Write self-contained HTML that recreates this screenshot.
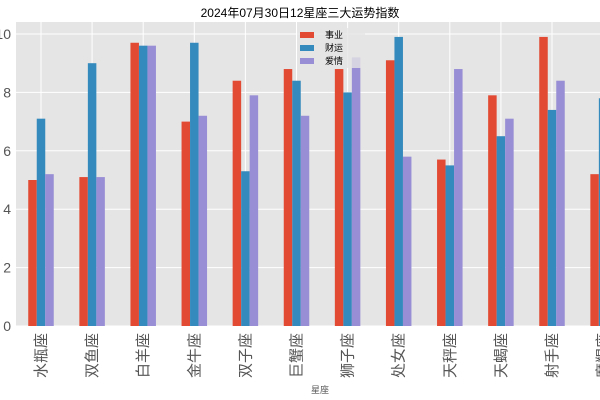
<!DOCTYPE html>
<html><head><meta charset="utf-8"><style>
body{margin:0;background:#fff;}
svg{display:block;font-family:"Liberation Sans","Noto Sans CJK SC",sans-serif;}
</style></head><body>
<svg id="chart" width="600" height="400">
<rect x="16" y="22" width="600" height="304" fill="#E5E5E5"/>
<g id="grid"></g><g id="bars"></g><g id="axes"></g>
<text x="300" y="17" text-anchor="middle" font-size="12" fill="#000">2024年07月30日12星座三大运势指数</text>
<text x="320" y="393" text-anchor="middle" font-size="9" fill="#555">星座</text>
<g>
<rect x="297" y="28" width="68" height="40" fill="#E5E5E5" opacity="0.8"/>
<rect x="300" y="32" width="14" height="6" fill="#E24A33"/>
<text x="325" y="38" font-size="9">事业</text>
<rect x="300" y="45" width="14" height="6" fill="#348ABD"/>
<text x="325" y="51" font-size="9">财运</text>
<rect x="300" y="58" width="14" height="6" fill="#988ED5"/>
<text x="325" y="64" font-size="9">爱情</text>
</g>
</svg>
<script>
const categories=["水瓶座","双鱼座","白羊座","金牛座","双子座","巨蟹座","狮子座","处女座","天秤座","天蝎座","射手座","摩羯座"];
const career=[5.0,5.1,9.7,7.0,8.4,8.8,8.8,9.1,5.7,7.9,9.9,5.2];
const wealth=[7.1,9.0,9.6,9.7,5.3,8.4,8.0,9.9,5.5,6.5,7.4,7.8];
const love=[5.2,5.1,9.6,7.2,7.9,7.2,9.2,5.8,8.8,7.1,8.4,6.0];
const yTicks=[0,2,4,6,8,10];
const NS="http://www.w3.org/2000/svg";
const y=v=>326-v*29.2;
const x=i=>41+i*51.1;
const bw=8.5;
const grid=document.getElementById('grid'),bars=document.getElementById('bars'),axes=document.getElementById('axes');
function mk(tag,attrs,parent){const e=document.createElementNS(NS,tag);for(const k in attrs)e.setAttribute(k,attrs[k]);parent.appendChild(e);return e;}
yTicks.forEach(t=>{
  const l=mk('line',{x1:16,x2:600,y1:y(t),y2:y(t),stroke:'#fff','stroke-width':1},grid);
  
  
  const tx=mk('text',{x:11,y:y(t)+5,'text-anchor':'end','font-size':14,fill:'#555'},axes);
  tx.textContent=String(t);
  
  
});
categories.forEach((c,i)=>{
  const l=mk('line',{x1:x(i),x2:x(i),y1:22,y2:326,stroke:'#fff','stroke-width':1},grid);
  
  
  const series=[[career,'#E24A33','career'],[wealth,'#348ABD','wealth'],[love,'#988ED5','love']];
  series.forEach((s,j)=>{
    const v=s[0][i];
    const r=mk('rect',{x:x(i)-1.5*bw+j*bw,y:y(v),width:bw,height:326-y(v),fill:s[1]},bars);
    
    
  });
  const tx=mk('text',{x:0,y:0,'font-size':15,fill:'#555','text-anchor':'end',transform:`translate(${x(i)+5},333) rotate(-90)`},axes);
  tx.textContent=c;
  
  
});
</script>
</body></html>
